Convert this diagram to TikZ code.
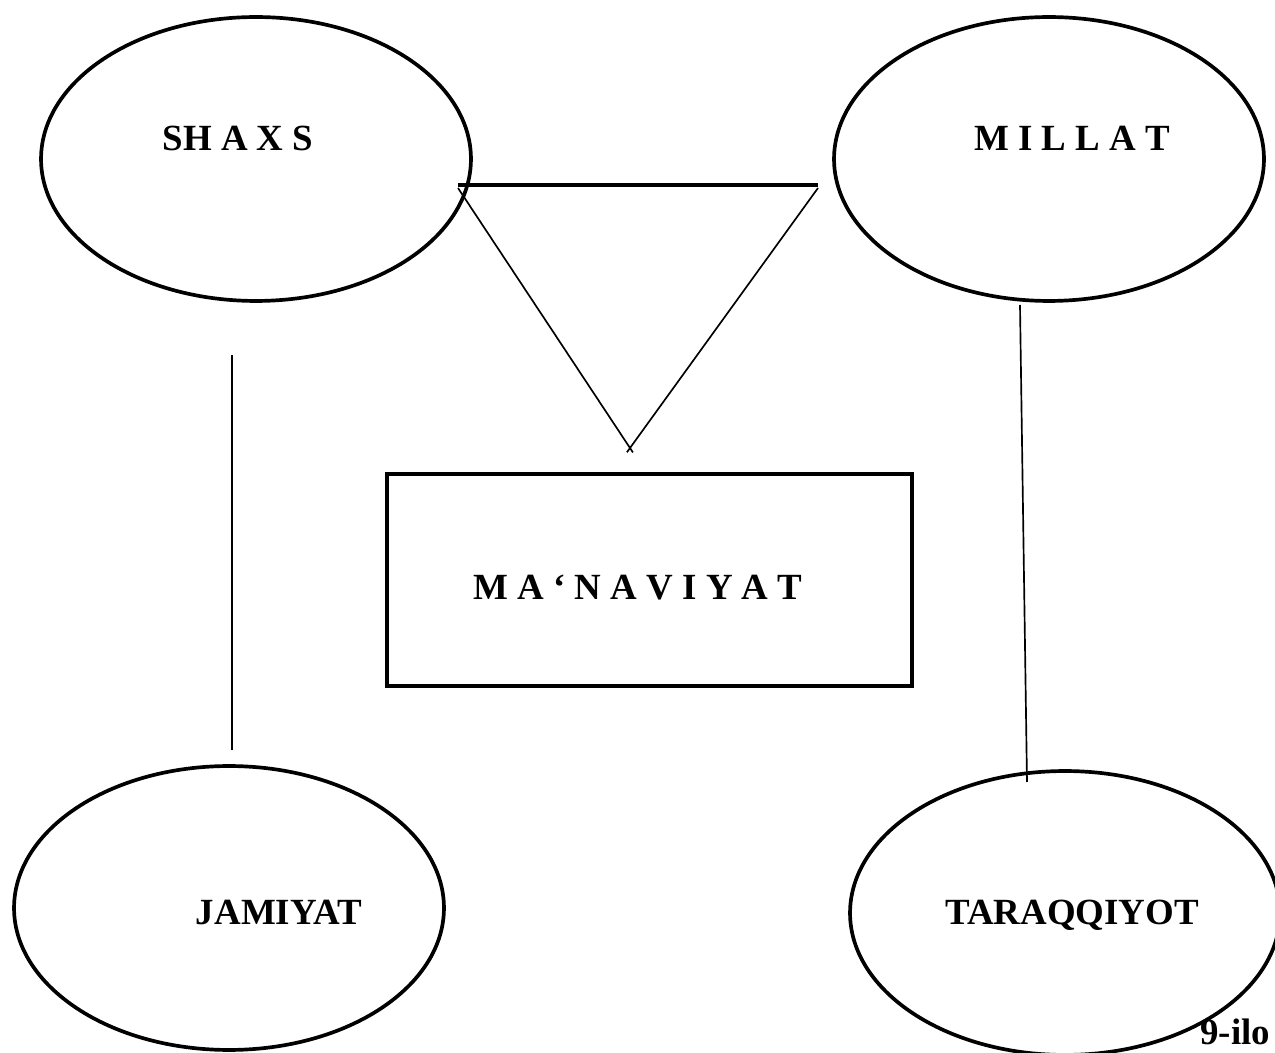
\documentclass[tikz,border=0pt]{standalone}
\usepackage{fontspec}
\setmainfont{Liberation Serif}
\usetikzlibrary{shapes.geometric}

\begin{document}
\begin{tikzpicture}[x=0.02cm,y=-0.02cm]
                      \tikzstyle{oval}=[ellipse,draw=black,line width=2.1pt,minimum width=8.6cm,minimum height=5.68cm,inner sep=0pt]
                      \tikzstyle{word}=[font=\fontsize{21}{25}\selectfont\bfseries,anchor=base,inner sep=0pt]
                      \tikzstyle{link}=[line width=0.95pt]
                      \useasboundingbox (0,0) rectangle (1275,1053);
                      \node[oval] (shaxs) at (256,159) {};
                      \node[oval] (millat) at (1049,159) {};
                      \node[oval] (jamiyat) at (229,908) {};
                      \node[oval] (taraqqiyot) at (1065,913) {};
                      \node[draw=black,line width=2.1pt,minimum width=10.5cm,minimum height=4.24cm,inner sep=0pt] (manaviyat) at (649.5,580) {};
                      \node[word] (shaxs-t) at (238,151) {SH A X S};
                      \node[word] (millat-t) at (1072,151) {M I L L A T};
                      \node[word] (manaviyat-t) at (638,600) {M A ‘ N A V I Y A T};
                      \node[word] (jamiyat-t) at (279,924) {JAMIYAT};
                      \node[word] (taraqqiyot-t) at (1072,924) {TARAQQIYOT};
                      \node[word,anchor=base west] (ilova) at (1200,1044) {9-ilo};
                      \coordinate (tl) at (458,185);
                      \coordinate (tr) at (818,185);
                      \coordinate (ta) at (458,188);
                      \coordinate (tb) at (818,188);
                      \coordinate (tc) at (630,448);
                      \draw[line width=2.3pt] (tl) -- (tr);
                      \draw[link,shorten >=-3pt] (ta) -- (tc);
                      \draw[link,shorten >=-3pt] (tb) -- (tc);
                      \coordinate (s1) at (232,355);
                      \coordinate (s2) at (232,750);
                      \coordinate (m1) at (1020,305);
                      \coordinate (m2) at (1027,782);
                      \draw[link] (s1) -- (s2);
                      \draw[link] (m1) -- (m2);
                  \end{tikzpicture}
\end{document}
